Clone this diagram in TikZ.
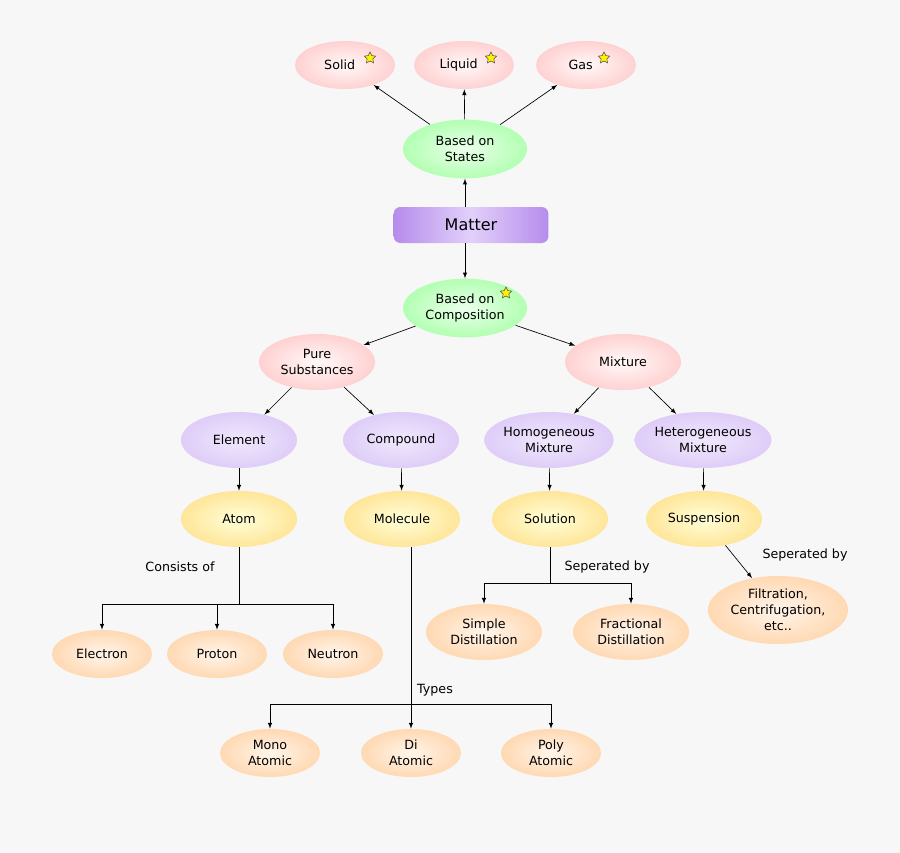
\documentclass[tikz,border=0pt]{standalone}
\usepackage{fontspec}
\setmainfont{DejaVu Sans}
\usetikzlibrary{shapes.geometric}

\definecolor{lavmid}{RGB}{240,232,252}
\definecolor{lavout}{RGB}{222,205,248}
\definecolor{purp}{RGB}{182,140,236}
\definecolor{purpmid}{RGB}{226,208,250}

\tikzset{
  bub/.style={ellipse, minimum width=#1*0.75pt, minimum height=42pt, inner sep=0pt,
    align=center, font=\fontsize{9.5}{12}\selectfont},
  bub/.default=116,
  pink/.style={inner color=white!70!red!8, outer color=red!18!white},
  green/.style={inner color=green!8!white, outer color=green!30!white},
  lav/.style={inner color=lavmid, outer color=lavout},
  yel/.style={inner color=yellow!15!white, outer color=yellow!50!orange!40!white},
  peach/.style={inner color=orange!8!white, outer color=orange!30!white},
  lab/.style={font=\fontsize{9.5}{12}\selectfont},
  yelstar/.style={star, star points=5, star point ratio=2, fill=yellow, draw=black!70,
    line width=0.4pt, minimum size=9pt, inner sep=0pt},
}

\begin{document}
\begin{tikzpicture}[x=0.75pt, y=-0.75pt, >={latex[scale=1.3]}, line width=0.5pt]
\fill[black!3] (0,0) rectangle (900,853);
\useasboundingbox (0,0) rectangle (900,853);

% states
\node[bub=100, pink, minimum height=36pt] (solid) at (345,65) {\hspace{-8pt}Solid};
\node[bub=100, pink, minimum height=36pt] (liquid) at (464,65) {\hspace{-8pt}Liquid};
\node[bub=100, pink, minimum height=36pt] (gas) at (586,65) {\hspace{-8pt}Gas};
\node[yelstar] at (370,58) {};
\node[yelstar] at (491,58) {};
\node[yelstar] at (604,58) {};
\node[bub=124, green, minimum height=44pt] (states) at (465,149) {Based on\\States};

% matter
\node[rounded corners=5pt, minimum width=116pt, minimum height=27pt,
  left color=purp, right color=purp, middle color=purpmid,
  font=\fontsize{12}{14}\selectfont] (matter) at (471,225) {Matter};

% composition
\node[bub=124, green, minimum height=44pt] (comp) at (465,308) {Based on\\Composition};
\node[yelstar] at (506,293) {};
\node[bub, pink] (pure) at (317,362) {Pure\\Substances};
\node[bub, pink] (mix) at (623,362) {Mixture};
\node[bub, lav] (elem) at (239,440) {Element};
\node[bub, lav] (cpd) at (401,440) {Compound};
\node[bub=124, lav] (homo) at (549,440) {Homogeneous\\Mixture};
\node[bub=124, lav] (hetero) at (703,440) {Heterogeneous\\Mixture};
\node[bub, yel] (atom) at (239,519) {Atom};
\node[bub, yel] (mol) at (402,519) {Molecule};
\node[bub, yel] (sol) at (550,519) {Solution};
\node[bub, yel] (susp) at (704,519) {Suspension};

\node[bub=100, peach, minimum height=36pt] (elec) at (102,654) {Electron};
\node[bub=100, peach, minimum height=36pt] (prot) at (217,654) {Proton};
\node[bub=100, peach, minimum height=36pt] (neut) at (333,654) {Neutron};
\node[bub, peach] (simple) at (484,632) {Simple\\Distillation};
\node[bub, peach] (frac) at (631,632) {Fractional\\Distillation};
\node[bub=140, peach, minimum height=51pt] (filt) at (778,610) {Filtration,\\Centrifugation,\\etc..};
\node[bub=100, peach, minimum height=36pt] (mono) at (270,753) {Mono\\Atomic};
\node[bub=100, peach, minimum height=36pt] (di) at (411,753) {Di\\Atomic};
\node[bub=100, peach, minimum height=36pt] (poly) at (551,753) {Poly\\Atomic};

% arrows
\draw[->] (states) -- (solid);
\draw[->] (states) -- (liquid);
\draw[->] (states) -- (gas);
\draw[->] (matter.north -| states) -- (states);
\draw[->] (matter.south -| comp) -- (comp);
\draw[->] (comp) -- (pure);
\draw[->] (comp) -- (mix);
\draw[->] (pure) -- (elem);
\draw[->] (pure) -- (cpd);
\draw[->] (mix) -- (homo);
\draw[->] (mix) -- (hetero);
\draw[->] (elem) -- (atom);
\draw[->] (cpd) -- (mol);
\draw[->] (homo) -- (sol);
\draw[->] (hetero) -- (susp);

% atom tree
\coordinate (ja) at (239,604);
\draw (atom) -- (ja);
\draw[->] (ja) -| (elec);
\draw[->] (ja) -| (prot);
\draw[->] (ja) -| (neut);
\node[lab] (cons) at (180,567) {Consists of};

% solution tree
\coordinate (js) at (550,583);
\draw (sol) -- (js);
\draw[->] (js) -| (simple);
\draw[->] (js) -| (frac);
\node[lab] (sep1) at (607,567) {Seperated by};

% suspension
\draw[->] (susp) -- (filt);
\node[lab] (sep2) at (805,555) {Seperated by};

% molecule tree
\coordinate (jm) at (411,704);
\draw[->] (mol.south -| di) -- (di);
\draw[->] (jm) -| (mono);
\draw[->] (jm) -| (poly);
\node[lab] (types) at (435,690) {Types};
\end{tikzpicture}
\end{document}
